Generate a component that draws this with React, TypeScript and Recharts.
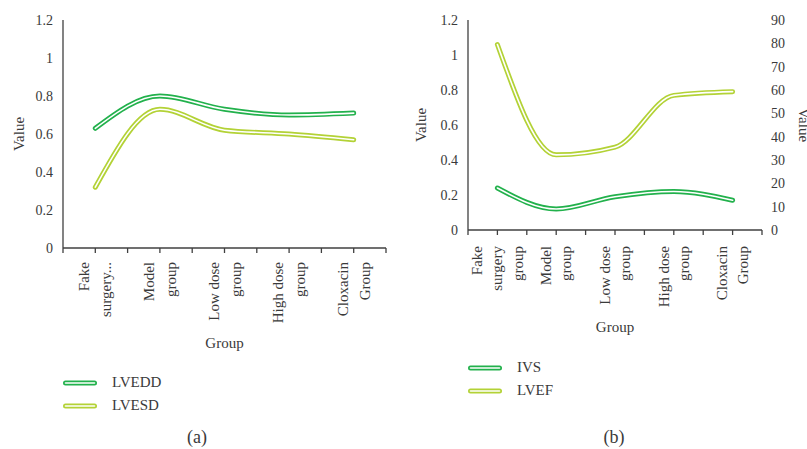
import { Legend, Line, LineChart, XAxis, YAxis } from 'recharts';

// echo measurements per group
const groups = ['Fake surgery group', 'Model group', 'Low dose group', 'High dose group', 'Cloxacin Group'];
const tickLinesA = [['Fake', 'surgery...'], ['Model', 'group'], ['Low dose', 'group'], ['High dose', 'group'], ['Cloxacin', 'Group']];
const tickLinesB = [['Fake', 'surgery', 'group'], ['Model', 'group'], ['Low dose', 'group'], ['High dose', 'group'], ['Cloxacin', 'Group']];

const lvedd = [0.63, 0.8, 0.73, 0.7, 0.71];
const lvesd = [0.32, 0.73, 0.62, 0.6, 0.57];
const ivs = [0.24, 0.12, 0.19, 0.22, 0.17];
const lvef = [79.5, 32.2, 35.5, 57.7, 59.3];

const valueTicks = [0, 0.2, 0.4, 0.6, 0.8, 1, 1.2];
const percentTicks = [0, 10, 20, 30, 40, 50, 60, 70, 80, 90];

const FONT = "'Liberation Serif', 'DejaVu Serif', serif";
const AXIS = '#404040';
const TEXT = '#3a3a3a';
const DARK = '#22b14c';
const LIGHT = '#b3d236';
const TICK_SIZE = 5;

const dataA = groups.map((g, i) => ({ group: g, LVEDD: lvedd[i], LVESD: lvesd[i] }));
const dataB = groups.map((g, i) => ({ group: g, IVS: ivs[i], LVEF: lvef[i] }));

function GroupTick(props) {
    const { x, y, index, lines, half, gap, top } = props;
    const axisY = y - TICK_SIZE;
    const marks = index === 0 ? [x - half, x, x + half] : [x, x + half];
    const words = lines[index] ?? [];
    return (
        <g>
            {marks.map((mx) => (
                <line key={mx} x1={mx} x2={mx} y1={axisY} y2={axisY + TICK_SIZE} stroke={AXIS} strokeWidth={1.3} />
            ))}
            {words.map((w, i) => {
                const lx = x + (i - (words.length - 1) / 2) * gap;
                const ly = axisY + top;
                return (
                    <text
                        key={i}
                        x={lx}
                        y={ly}
                        transform={`rotate(-90 ${lx} ${ly})`}
                        textAnchor="end"
                        dominantBaseline="central"
                        fontSize={15}
                        fontFamily={FONT}
                        fill={TEXT}
                    >
                        {w}
                    </text>
                );
            })}
        </g>
    );
}

function AxisTitle({ viewBox, text, dx, dy, angle }) {
    const cx = viewBox.x + dx;
    const cy = viewBox.y + dy;
    return (
        <text
            x={cx}
            y={cy}
            transform={angle ? `rotate(${angle} ${cx} ${cy})` : undefined}
            textAnchor="middle"
            dominantBaseline="central"
            fontSize={15}
            fontFamily={FONT}
            fill={TEXT}
        >
            {text}
        </text>
    );
}

// the white inner strokes carry legendType "none", so only the outer ones are listed
function SeriesLegend({ payload }) {
    const entries = (payload ?? []).filter((entry) => entry.type !== 'none' && entry.color !== '#ffffff');
    return (
        <div style={{ fontFamily: FONT, fontSize: 15, color: TEXT }}>
            {entries.map((entry) => (
                <div key={entry.value} style={{ display: 'flex', alignItems: 'center', height: 23 }}>
                    <svg width={40} height={10}>
                        <line x1={4.5} x2={33.5} y1={5} y2={5} stroke={entry.color} strokeWidth={5} strokeLinecap="round" />
                        <line x1={4.5} x2={33.5} y1={5} y2={5} stroke="#fff" strokeWidth={1.6} strokeLinecap="round" />
                    </svg>
                    <span style={{ marginLeft: 11 }}>{entry.value}</span>
                </div>
            ))}
        </div>
    );
}

const tickStyle = { fill: TEXT, fontSize: 14, fontFamily: FONT };

function DoubleLine(key, color, yAxisId) {
    return [
        <Line
            key={key}
            yAxisId={yAxisId}
            type="monotone"
            dataKey={key}
            name={key}
            stroke={color}
            strokeWidth={5}
            strokeLinecap="round"
            dot={false}
            activeDot={false}
            isAnimationActive={false}
        />,
        <Line
            key={key + '-inner'}
            yAxisId={yAxisId}
            type="monotone"
            dataKey={key}
            stroke="#ffffff"
            strokeWidth={1.6}
            strokeLinecap="round"
            dot={false}
            activeDot={false}
            legendType="none"
            isAnimationActive={false}
        />,
    ];
}

export default function App() {
    return (
        <div style={{ position: 'absolute', left: 0, top: 0, width: 807, height: 449, background: '#fff', overflow: 'hidden', fontFamily: FONT }}>
            <div style={{ position: 'absolute', left: 0, top: 0 }}>
                <LineChart width={400} height={449} data={dataA} margin={{ top: 20, right: 14, bottom: 91, left: 0 }}>
                    <XAxis
                        dataKey="group"
                        scale="band"
                        interval={0}
                        height={110}
                        tickSize={TICK_SIZE}
                        tickMargin={0}
                        tickLine={false}
                        axisLine={{ stroke: AXIS, strokeWidth: 1.3 }}
                        tick={(p) => <GroupTick {...p} lines={tickLinesA} half={32.3} gap={22} top={14} />}
                        label={(p) => <AxisTitle {...p} text="Group" dx={161.5} dy={95} />}
                    />
                    <YAxis
                        yAxisId="left"
                        width={63}
                        domain={[0, 1.2]}
                        ticks={valueTicks}
                        interval={0}
                        tickLine={false}
                        tickSize={0}
                        tickMargin={10}
                        axisLine={{ stroke: AXIS, strokeWidth: 1.3 }}
                        tick={tickStyle}
                        label={(p) => <AxisTitle {...p} text="Value" dx={18.5} dy={114} angle={-90} />}
                    />
                    <Legend
                        layout="horizontal"
                        verticalAlign="middle"
                        align="center"
                        content={<SeriesLegend />}
                        wrapperStyle={{ left: 61, top: 371, width: 'auto' }}
                    />
                    {DoubleLine('LVEDD', DARK, 'left')}
                    {DoubleLine('LVESD', LIGHT, 'left')}
                </LineChart>
            </div>

            <div style={{ position: 'absolute', left: 400, top: 0 }}>
                <LineChart width={407} height={449} data={dataB} margin={{ top: 20, right: 0, bottom: 109, left: 0 }}>
                    <XAxis
                        dataKey="group"
                        scale="band"
                        interval={0}
                        height={110}
                        tickSize={TICK_SIZE}
                        tickMargin={0}
                        tickLine={false}
                        axisLine={{ stroke: AXIS, strokeWidth: 1.3 }}
                        tick={(p) => <GroupTick {...p} lines={tickLinesB} half={29.4} gap={20.5} top={16} />}
                        label={(p) => <AxisTitle {...p} text="Group" dx={147} dy={97} />}
                    />
                    <YAxis
                        yAxisId="left"
                        width={68}
                        domain={[0, 1.2]}
                        ticks={valueTicks}
                        interval={0}
                        tickLine={false}
                        tickSize={0}
                        tickMargin={10}
                        axisLine={{ stroke: AXIS, strokeWidth: 1.3 }}
                        tick={tickStyle}
                        label={(p) => <AxisTitle {...p} text="Value" dx={21} dy={105} angle={-90} />}
                    />
                    <YAxis
                        yAxisId="right"
                        orientation="right"
                        width={45}
                        domain={[0, 90]}
                        ticks={percentTicks}
                        interval={0}
                        tickLine={false}
                        tickSize={0}
                        tickMargin={9}
                        axisLine={false}
                        tick={tickStyle}
                        label={(p) => <AxisTitle {...p} text="Value" dx={42} dy={105} angle={90} />}
                    />
                    <Legend
                        layout="horizontal"
                        verticalAlign="middle"
                        align="center"
                        content={<SeriesLegend />}
                        wrapperStyle={{ left: 66, top: 356, width: 'auto' }}
                    />
                    {DoubleLine('IVS', DARK, 'left')}
                    {DoubleLine('LVEF', LIGHT, 'right')}
                </LineChart>
            </div>

            <div style={{ position: 'absolute', left: 167, top: 427, width: 60, textAlign: 'center', fontSize: 18, color: TEXT }}>(a)</div>
            <div style={{ position: 'absolute', left: 584, top: 427, width: 60, textAlign: 'center', fontSize: 18, color: TEXT }}>(b)</div>
        </div>
    );
}
